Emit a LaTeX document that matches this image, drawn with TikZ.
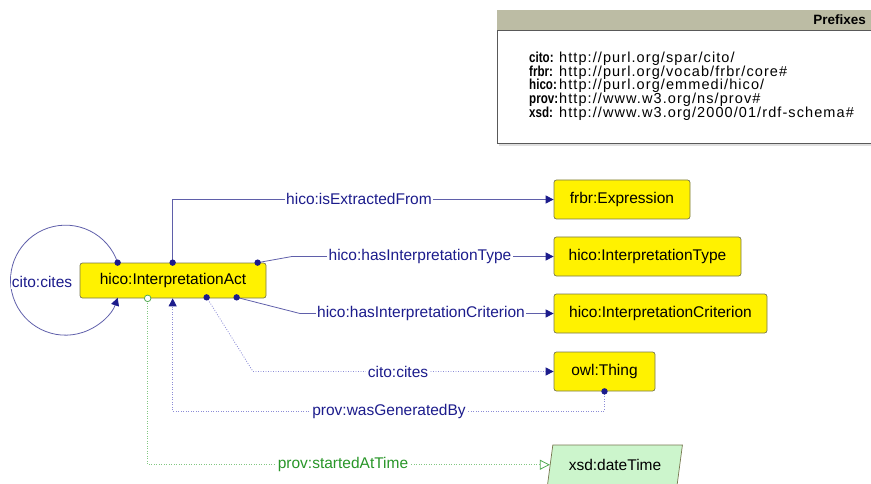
\documentclass[tikz,border=0pt]{standalone}
\usepackage{fontspec}
\setmainfont{Liberation Sans}
\newfontfamily\urlfont[LetterSpace=7.5]{Liberation Sans}
\newfontfamily\pfxfont[FakeStretch=0.8]{Liberation Sans}
\usetikzlibrary{arrows.meta,calc,shapes.geometric}
\definecolor{navy}{RGB}{28,28,140}
\definecolor{edgeline}{RGB}{95,95,170}
\definecolor{dotline}{RGB}{140,140,215}
\definecolor{glabel}{RGB}{40,150,40}
\definecolor{gline}{RGB}{130,200,130}
\definecolor{boxborder}{RGB}{120,120,80}
\definecolor{hdr}{RGB}{188,188,164}
\definecolor{dtfill}{RGB}{204,245,204}
\begin{document}
\begin{tikzpicture}[x=1pt,y=-1pt,
  lbl/.style={font=\fontsize{15.5}{18}\selectfont},
  cls/.style={lbl, draw=boxborder, fill=yellow, rounded corners=2.5pt, inner sep=0pt, text=black, line width=0.7pt},
  dtype/.style={lbl, draw=boxborder, fill=dtfill, trapezium, trapezium left angle=71, trapezium right angle=109, trapezium stretches=true, inner sep=0pt, line width=0.7pt},
  elabel/.style={lbl, fill=white, inner sep=1.5pt, text=navy},
  glab/.style={lbl, fill=white, inner sep=1.5pt, text=glabel},
  rel/.style={draw=edgeline, line width=0.8pt},
  dotrel/.style={draw=dotline, line width=0.8pt, dash pattern=on 0.9pt off 1.6pt},
  grel/.style={draw=gline, line width=0.8pt, dash pattern=on 0.9pt off 1.6pt},
  tip/.style={-{Triangle[length=8pt,width=8pt,color=navy]}},
  otip/.style={-{Triangle[open,length=10pt,width=10pt,color=glabel!80]}},
  knob/.style={fill=navy},
  pfx/.style={font=\pfxfont\bfseries\fontsize{14.5}{16}\selectfont, anchor=base west, inner sep=0pt},
  uri/.style={font=\urlfont\fontsize{14.5}{16}\selectfont, anchor=base west, inner sep=0pt}
]
\useasboundingbox (0,0) rectangle (871,484);
\clip (0,0) rectangle (871,484);

% prefixes box
\fill[gray!25] (499,143) rectangle (880,146);
\draw[fill=white, draw=gray!70!black, line width=0.7pt] (497,10) rectangle (880,143);
\fill[hdr] (497.4,10.4) rectangle (880,30);
\draw[gray!70!black, line width=0.5pt] (497,30) -- (880,30);
\node[font=\fontsize{13.5}{15}\selectfont\bfseries, anchor=base east, inner sep=0pt] (ptitle) at (866,24.5) {Prefixes};
\node[pfx] (p1) at (529,62.3) {cito:};
\node[pfx] (p2) at (529,76.1) {frbr:};
\node[pfx] (p3) at (529,89.9) {hico:};
\node[pfx] (p4) at (529,103.7) {prov:};
\node[pfx] (p5) at (529,117.5) {xsd:};
\node[uri] (u1) at (559,62.3) {http://purl.org/spar/cito/};
\node[uri] (u2) at (559,76.1) {http://purl.org/vocab/frbr/core\#};
\node[uri] (u3) at (559,89.9) {http://purl.org/emmedi/hico/};
\node[uri] (u4) at (559,103.7) {http://www.w3.org/ns/prov\#};
\node[uri] (u5) at (559,117.5) {http://www.w3.org/2000/01/rdf-schema\#};

% class nodes
\node[cls, minimum width=186, minimum height=35] (act) at (173,280.5) {hico:InterpretationAct};
\node[cls, minimum width=136, minimum height=39] (expr) at (622,199.5) {frbr:Expression};
\node[cls, minimum width=187, minimum height=39] (type) at (647.5,256.5) {hico:InterpretationType};
\node[cls, minimum width=213, minimum height=39] (crit) at (660.5,313.5) {hico:InterpretationCriterion};
\node[cls, minimum width=101, minimum height=39] (thing) at (604.5,371.5) {owl:Thing};
\node[dtype, minimum width=136, minimum height=39.5] (dt) at (615,464.75) {xsd:dateTime};

% anchor points on act
\coordinate (loopS) at ($(act.north west)+(38,0)$);
\coordinate (loopE) at ($(act.south west)+(38,0)$);
\coordinate (aTop) at ($(act.north west)+(93,0)$);
\coordinate (aTR) at ($(act.north west)+(178,0)$);
\coordinate (aB1) at ($(act.south west)+(68,0)$);
\coordinate (aB2) at ($(act.south west)+(93,0)$);
\coordinate (aB3) at ($(act.south west)+(127,-1)$);
\coordinate (aB4) at ($(act.south west)+(157,-1)$);

% self loop cito:cites
\draw[rel, tip] (loopS) arc[start angle=-18.57, end angle=-341.43, radius=55];
\node[elabel, inner sep=1pt] (lloop) at (42,282) {cito:cites};

% isExtractedFrom
\draw[rel, tip] (aTop) |- (expr.west);
\node[elabel] (l1) at (359,199) {hico:isExtractedFrom};

% hasInterpretationType
\draw[rel, tip] (aTR) -- (292,256.5) -- (type.west);
\node[elabel] (l2) at (420,256.5) {hico:hasInterpretationType};

% hasInterpretationCriterion
\draw[rel, tip] (aB4) -- (300,313.5) -- (crit.west);
\node[elabel] (l3) at (421,313.5) {hico:hasInterpretationCriterion};

% cito:cites to owl:Thing
\draw[dotrel, tip] (aB3) -- (253,371.5) -- (thing.west);
\node[elabel] (l4) at (398,371.5) {cito:cites};

% prov:wasGeneratedBy
\draw[dotrel, tip] (thing.south) -- (thing.south |- 0,411) -| (aB2);
\node[elabel] (l5) at (389,411) {prov:wasGeneratedBy};

% prov:startedAtTime
\draw[grel, otip] (aB1) |- (dt.west);
\node[glab] (l6) at (343,464.75) {prov:startedAtTime};

% knobs
\fill[knob] (loopS) circle (3.2);
\fill[knob] (aTop) circle (3.2);
\fill[knob] (aTR) circle (3.2);
\fill[knob] (aB3) circle (3.2);
\fill[knob] (aB4) circle (3.2);
\fill[knob] (thing.south) circle (3.2);
\draw[draw=glabel!80, fill=white, line width=0.8pt] (aB1) circle (3.3);
\end{tikzpicture}
\end{document}
